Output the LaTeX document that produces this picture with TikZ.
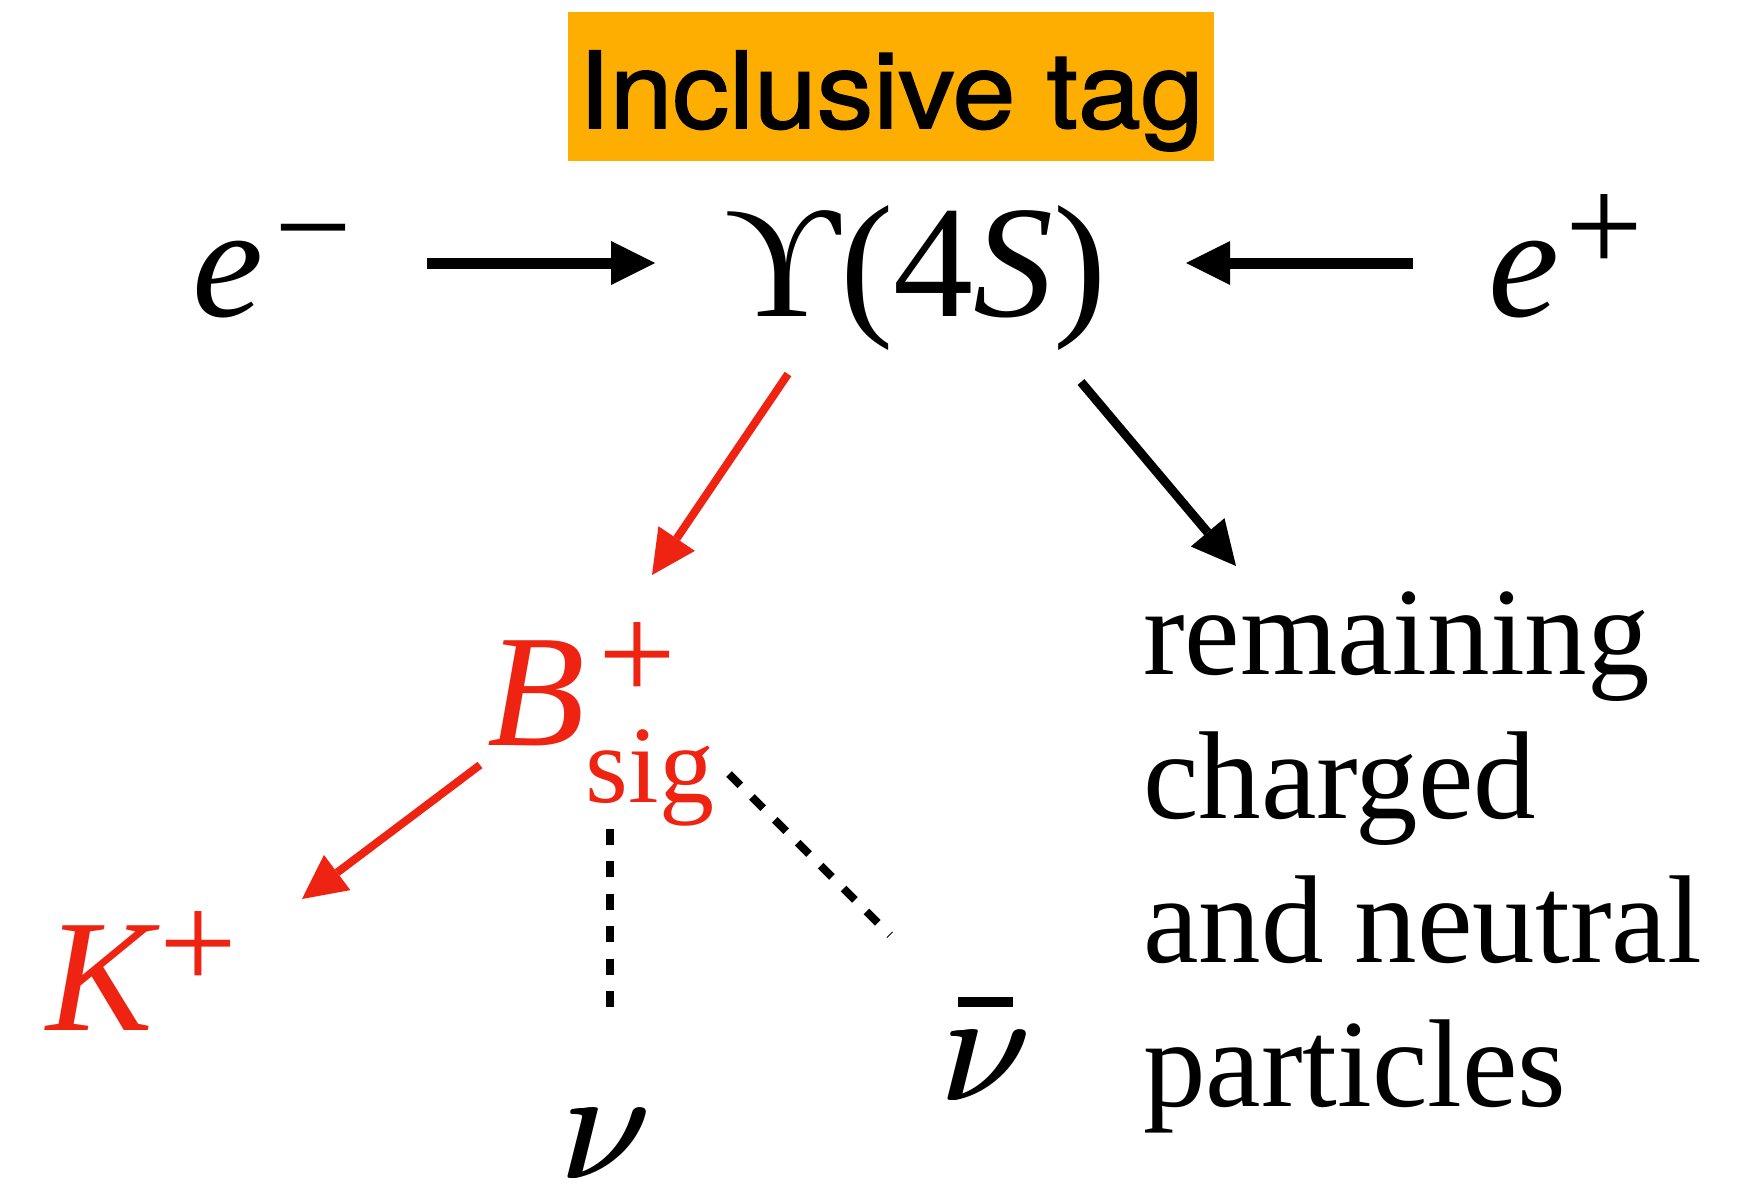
\documentclass[tikz,border=0pt]{standalone}
\usepackage{fontspec}
\setmainfont{Liberation Serif}
\newfontfamily\heros[FakeBold=1.5]{TeX Gyre Heros}
\usetikzlibrary{arrows.meta}
\definecolor{tagorange}{RGB}{253,174,0}
\definecolor{sigred}{RGB}{238,35,17}
\newcommand\bigsz{\fontsize{160}{160}\selectfont}
\newcommand\supsz{\fontsize{138}{138}\selectfont}
\newcommand\subsz{\fontsize{110}{110}\selectfont}
\newcommand\nuglyph{\scalebox{16}{\fontsize{10}{12}\selectfont$\nu$}}
\newcommand\bignu{\rlap{\nuglyph}\hspace{1.8pt}\rlap{\nuglyph}\hspace{1.8pt}\nuglyph}
\begin{document}
\begin{tikzpicture}[x=1pt,y=-1pt,
  lbl/.style={inner sep=0pt, outer sep=0pt},
  bigtip/.style={-{Triangle[length=44pt,width=44pt,line width=0pt]}},
  beam/.style={line width=11pt, bigtip},
  decay/.style={line width=9pt, bigtip},
  sigdecay/.style={line width=8pt, draw=sigred, fill=sigred, bigtip},
  invis/.style={line width=8pt, dash pattern=on 16pt off 16.4pt},
]
\useasboundingbox (0,0) rectangle (1737,1185);
\node[lbl, anchor=base, fill=tagorange, minimum width=646pt, text height=116pt, text depth=33pt,
      font=\heros\fontsize{106}{106}\selectfont] (tag) at (891,128) {\scalebox{1.065}[1]{Inclusive tag}};
\node[lbl, anchor=base west] (em) at (192.5,316)
  {\bigsz\itshape e\hspace{10.5pt}\raisebox{43pt}{\supsz\upshape −}};
\node[lbl, anchor=base] (ups) at (916,316) {\bigsz ϒ(4\textit{S})};
\node[lbl, anchor=base west] (ep) at (1488.5,316)
  {\bigsz\itshape e\hspace{6pt}\raisebox{44pt}{\supsz\upshape +}};
\node[lbl, anchor=base west, text=sigred] (bsig) at (487,745)
  {\bigsz\itshape B\hspace{14pt}\rlap{\raisebox{45pt}{\supsz\upshape +}}\hspace{-13pt}\raisebox{-57pt}{\subsz\upshape sig}};
\node[lbl, anchor=base west, text=sigred] (kp) at (46,1030)
  {\bigsz\itshape K\hspace{7pt}\raisebox{41pt}{\supsz\upshape +}};
\node[lbl, anchor=base] (nu) at (605.5,1178) {\bignu};
\node[lbl, anchor=base] (nubar) at (985.5,1100)
  {\rlap{\hspace{19pt}\rule[93pt]{55pt}{10pt}}\bignu};
\node[lbl, anchor=base west] (rest) at (1143,674)
  {\fontsize{125}{144}\selectfont\vtop{\baselineskip=144pt
    \hbox{remaining}\hbox{charged}\hbox{and neutral}\hbox{particles}}};
% connector end points
\coordinate (emR) at (427,263);
\coordinate (upsL) at (655,263);
\coordinate (epL) at (1413,263);
\coordinate (upsR) at (1186,263);
\coordinate (upsSE) at (1081,382);
\coordinate (restNW) at (1236,566);
\coordinate (upsSW) at (788,374);
\coordinate (bsigN) at (652,575);
\coordinate (bsigW) at (480,765);
\coordinate (kpNE) at (302,899);
\coordinate (bsigS) at (609.5,829);
\coordinate (nuN) at (609.5,1008);
\coordinate (bsigE) at (729,774);
\coordinate (nubarNW) at (890,935);
\draw[beam] (emR) -- (upsL);
\draw[beam] (epL) -- (upsR);
\draw[decay] (upsSE) -- (restNW);
\draw[sigdecay] (upsSW) -- (bsigN);
\draw[sigdecay] (bsigW) -- (kpNE);
\draw[invis] (bsigS) -- (nuN);
\draw[invis] (bsigE) -- (nubarNW);
\end{tikzpicture}
\end{document}
